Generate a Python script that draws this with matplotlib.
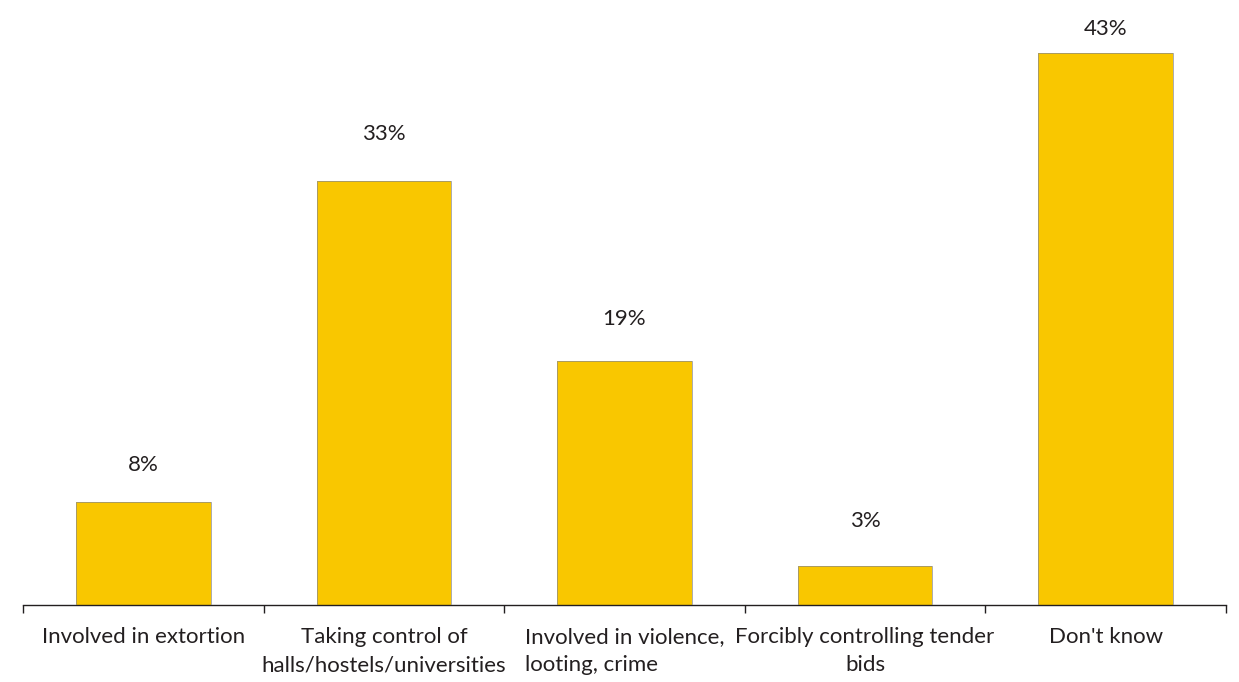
import matplotlib
matplotlib.use("Agg")
import matplotlib.pyplot as plt
import numpy as np

categories = ["Involved in extortion",
              "Taking control of\nhalls/hostels/universities",
              "Involved in violence,\nlooting, crime",
              "Forcibly controlling tender\nbids",
              "Don't know"]
values = [8, 33, 19, 3, 43]
label_texts = ["8%", "33%", "19%", "3%", "43%"]

plt.rcParams['font.family'] = ['Lato', 'DejaVu Sans']

fig = plt.figure(figsize=(12.39, 6.82), dpi=100)
ax = fig.add_axes([23/1239, 77/682, (1226-23)/1239, (605-27)/682])

x = np.arange(len(values))
ax.bar(x, values, width=0.56, color="#F9C700", edgecolor="none", zorder=2)
ax.bar(x, values, width=0.56, color="none", edgecolor="#8a8a8a", linewidth=0.5, zorder=3)

# offsets (points) from bar top to label centre
label_offsets = [27, 34, 30, 33, 17]
for xi, v, t, off in zip(x, values, label_texts, label_offsets):
    ax.annotate(t, (xi, v), xytext=(0, off), textcoords="offset points",
                ha="center", va="center", fontsize=16, color="#231f20")

ax.set_xlim(-0.5, len(values) - 0.5)
ax.set_ylim(0, 45)
ax.set_yticks([])
for s in ["top", "right", "left"]:
    ax.spines[s].set_visible(False)
ax.spines["bottom"].set_color("#231f20")
ax.spines["bottom"].set_linewidth(1.0)

ax.set_xticks(x)
ax.set_xticklabels(categories, fontsize=16, color="#231f20", linespacing=1.5)
ax.tick_params(axis="x", which="major", length=0, pad=16)
ax.set_xticks(np.arange(len(values) + 1) - 0.5, minor=True)
ax.tick_params(axis="x", which="minor", length=6, width=1, color="#231f20", direction="out")

aligns = ["center", "center", "left", "center", "center"]
for lab, a in zip(ax.get_xticklabels(), aligns):
    lab.set_verticalalignment("top")
    lab.set_multialignment(a)

fig.savefig("out.png", dpi=100, facecolor="white")
